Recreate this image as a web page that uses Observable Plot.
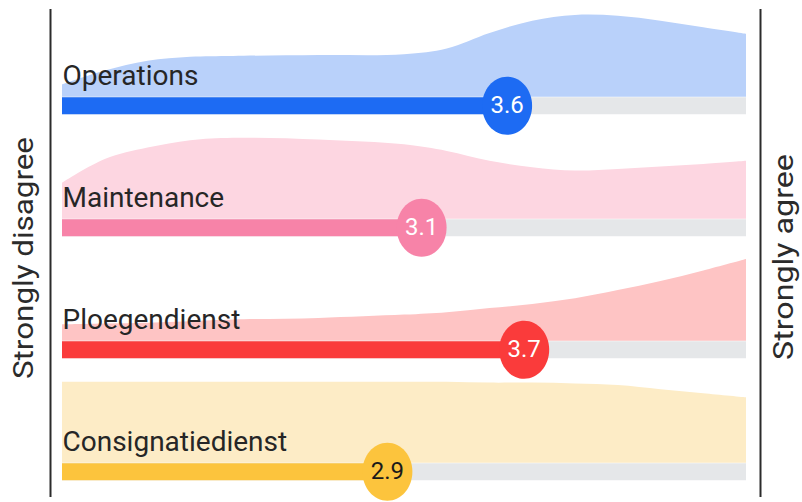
<!DOCTYPE html>
<html><head><meta charset="utf-8">
<script src="https://cdn.jsdelivr.net/npm/d3@7"></script>
<script src="https://cdn.jsdelivr.net/npm/@observablehq/plot@0.6"></script>
<style>
body{margin:0;background:#fff;}
#wrap{position:relative;width:802px;height:502px;font-family:Roboto, sans-serif;overflow:hidden;}
#wrap svg{position:absolute;left:0;top:0;}
.side{position:absolute;font-size:28px;font-weight:400;line-height:1;color:#2b2b2b;white-space:nowrap;}
</style></head><body>
<div id="wrap"></div>
<script>
// ---- data ----
const categories = ["Operations", "Maintenance", "Ploegendienst", "Consignatiedienst"];
const means = [3.6, 3.1, 3.7, 2.9];
const scoreMin = 1, scoreMax = 5;
const scorePoints = [1, 1.25, 1.5, 1.75, 2, 2.5, 3, 3.25, 3.5, 3.75, 4, 4.25, 4.5, 4.75, 5];
const densOperations = [0.15, 0.32, 0.44, 0.49, 0.50, 0.51, 0.52, 0.59, 0.78, 0.93, 1.00, 0.99, 0.93, 0.85, 0.77];
const densMaintenance = [0.44, 0.73, 0.87, 0.96, 0.99, 0.97, 0.91, 0.83, 0.71, 0.63, 0.59, 0.61, 0.64, 0.67, 0.71];
const densPloegendienst = [0.20, 0.21, 0.22, 0.24, 0.26, 0.28, 0.32, 0.35, 0.40, 0.45, 0.52, 0.62, 0.73, 0.86, 1.00];
const densConsignatiedienst = [0.99, 0.99, 0.99, 0.99, 0.99, 0.99, 0.99, 0.99, 0.98, 0.98, 0.97, 0.95, 0.90, 0.85, 0.80];
const barColors = ["#1d6bf3", "#f783a8", "#fa3b3b", "#fcc43d"];
const areaColors = ["#b9d1fa", "#fdd6e1", "#fec4c4", "#fdecc6"];
const labelInks = ["#ffffff", "#ffffff", "#ffffff", "#1a1a1a"];
const trackColor = "#e5e7e9";
const sideLabels = ["Strongly disagree", "Strongly agree"];

// ---- table for the library ----
const densities = [densOperations, densMaintenance, densPloegendienst, densConsignatiedienst];
const table = [];
categories.forEach((cat, i) => {
  scorePoints.forEach((s, j) => table.push({kind: "area", cat, score: s, density: densities[i][j], color: areaColors[i]}));
  table.push({kind: "mean", cat, mean: means[i], bar: barColors[i], ink: labelInks[i], label: means[i].toFixed(1)});
});
const isArea = d => d.kind === "area";
const isMean = d => d.kind === "mean";

// ellipse symbol (the reference dots are slightly taller than wide)
const ellipse = {
  draw(ctx, size) {
    const r = Math.sqrt(size / Math.PI), rx = r, ry = r * 1.16, k = 0.5523;
    ctx.moveTo(rx, 0);
    ctx.bezierCurveTo(rx, ry * k, rx * k, ry, 0, ry);
    ctx.bezierCurveTo(-rx * k, ry, -rx, ry * k, -rx, 0);
    ctx.bezierCurveTo(-rx, -ry * k, -rx * k, -ry, 0, -ry);
    ctx.bezierCurveTo(rx * k, -ry, rx, -ry * k, rx, 0);
    ctx.closePath();
  }
};

const chart = Plot.plot({
  width: 802,
  height: 502,
  marginLeft: 62,
  marginRight: 56,
  marginTop: 8,
  marginBottom: 5,
  style: {fontFamily: "Roboto, sans-serif", background: "transparent"},
  x: {domain: [scoreMin, scoreMax], axis: null},
  y: {domain: [-0.418, 1.073], axis: null},
  fy: {domain: categories, padding: 0, axis: null},
  color: {type: "identity"},
  facet: {data: table, y: "cat"},
  marks: [
    Plot.areaY(table, {filter: isArea, x: "score", y: "density", fill: "color", curve: "catmull-rom"}),
    Plot.ruleY(table, {filter: isMean, x1: () => scoreMin, x2: () => scoreMax, y: () => 0, dy: 8.5, stroke: trackColor, strokeWidth: 17}),
    Plot.ruleY(table, {filter: isMean, x1: () => scoreMin, x2: "mean", y: () => 0, dy: 8.5, stroke: "bar", strokeWidth: 17}),
    Plot.dot(table, {filter: isMean, x: "mean", y: () => 0, dy: 8.5, r: 25, fill: "bar", symbol: ellipse}),
    Plot.text(table, {filter: isMean, x: "mean", y: () => 0, dy: 8.5, text: "label", fill: "ink", fontSize: 24, fontWeight: 400}),
    Plot.text(table, {filter: isMean, x: () => scoreMin, y: () => 0, dy: -12, text: "cat", textAnchor: "start", lineAnchor: "bottom", fontSize: 28, fontWeight: 400, fill: "#262626"}),
    Plot.ruleX([scoreMin], {dx: -12, stroke: "#2b2b2b", strokeWidth: 2}),
    Plot.ruleX([scoreMax], {dx: 14, stroke: "#2b2b2b", strokeWidth: 2})
  ]
});
const wrap = document.getElementById("wrap");
wrap.appendChild(chart);

function side(text, cx, cy, sx) {
  const d = document.createElement("div");
  d.className = "side";
  d.textContent = text;
  d.style.left = cx + "px";
  d.style.top = cy + "px";
  d.style.transform = `translate(-50%,-50%) rotate(-90deg) scaleX(${sx})`;
  wrap.appendChild(d);
}
side(sideLabels[0], 23.5, 257.5, 1.12);
side(sideLabels[1], 783.5, 256.5, 1.15);
</script>
</body></html>
